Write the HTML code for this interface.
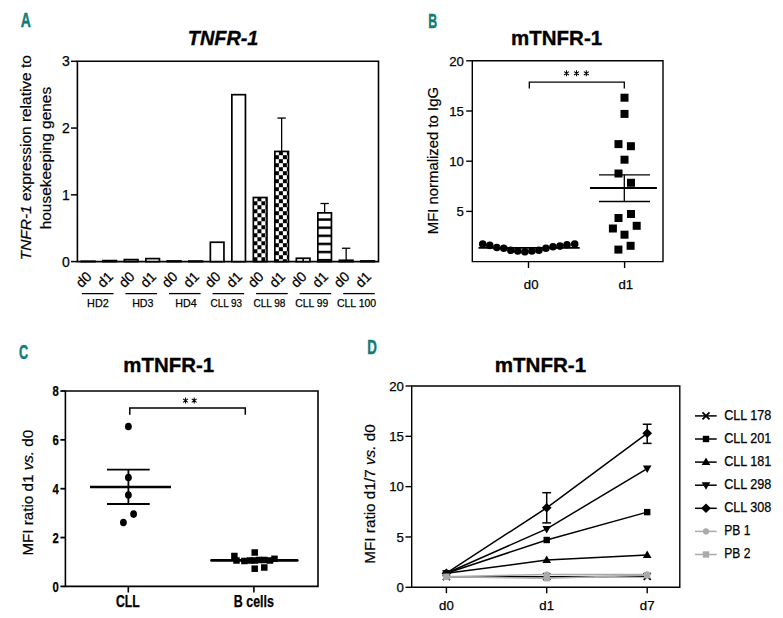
<!DOCTYPE html>
<html><head><meta charset="utf-8"><style>
html,body{margin:0;padding:0;background:#fff;}
svg{display:block;}
text{font-family:"Liberation Sans",sans-serif;}
</style></head><body>
<svg width="783" height="618" viewBox="0 0 783 618">
<rect width="783" height="618" fill="#fff"/>
<text x="20.8" y="26.5" font-size="19.8" text-anchor="start" font-weight="bold" font-style="normal" fill="#127a79" textLength="10.1" lengthAdjust="spacingAndGlyphs" stroke="#127a79" stroke-width="0.45">A</text>
<text x="187.8" y="45.3" font-size="21" text-anchor="start" font-weight="bold" font-style="italic" fill="#000" textLength="70.6" lengthAdjust="spacingAndGlyphs" stroke="#000" stroke-width="0.35">TNFR-1</text>
<path d="M77.4,61.3 H378.5 V261.6 H77.4 Z" fill="none" stroke="#000" stroke-width="1.6"/>
<line x1="71" y1="261.6" x2="77.4" y2="261.6" stroke="#000" stroke-width="1.5" />
<text x="69.8" y="266.6" font-size="14" text-anchor="end" font-weight="normal" font-style="normal" fill="#000"  stroke="#000" stroke-width="0.25">0</text>
<line x1="71" y1="194.83333333333337" x2="77.4" y2="194.83333333333337" stroke="#000" stroke-width="1.5" />
<text x="69.8" y="199.83333333333337" font-size="14" text-anchor="end" font-weight="normal" font-style="normal" fill="#000"  stroke="#000" stroke-width="0.25">1</text>
<line x1="71" y1="128.0666666666667" x2="77.4" y2="128.0666666666667" stroke="#000" stroke-width="1.5" />
<text x="69.8" y="133.0666666666667" font-size="14" text-anchor="end" font-weight="normal" font-style="normal" fill="#000"  stroke="#000" stroke-width="0.25">2</text>
<line x1="71" y1="61.29999999999998" x2="77.4" y2="61.29999999999998" stroke="#000" stroke-width="1.5" />
<text x="69.8" y="66.29999999999998" font-size="14" text-anchor="end" font-weight="normal" font-style="normal" fill="#000"  stroke="#000" stroke-width="0.25">3</text>
<text transform="translate(30.8,157.7) rotate(-90)" font-size="15.45" text-anchor="middle" fill="#000" stroke="#000" stroke-width="0.2"><tspan font-style="italic">TNFR-1</tspan> expression relative to</text>
<text transform="translate(50.8,158.1) rotate(-90)" font-size="15.45" text-anchor="middle" fill="#000" stroke="#000" stroke-width="0.2">housekeeping genes</text>
<rect x="81.35" y="261.27" width="13.6" height="0.33" fill="#fff" stroke="#000" stroke-width="1.7"/>
<rect x="102.85" y="260.60" width="13.6" height="1.00" fill="#fff" stroke="#000" stroke-width="1.7"/>
<rect x="124.35" y="259.60" width="13.6" height="2.00" fill="#fff" stroke="#000" stroke-width="1.7"/>
<rect x="145.85" y="258.60" width="13.6" height="3.00" fill="#fff" stroke="#000" stroke-width="1.7"/>
<rect x="167.35" y="260.93" width="13.6" height="0.67" fill="#fff" stroke="#000" stroke-width="1.7"/>
<rect x="188.85" y="261.07" width="13.6" height="0.53" fill="#fff" stroke="#000" stroke-width="1.7"/>
<rect x="210.35" y="242.24" width="13.6" height="19.36" fill="#fff" stroke="#000" stroke-width="1.7"/>
<rect x="231.85" y="94.68" width="13.6" height="166.92" fill="#fff" stroke="#000" stroke-width="1.7"/>
<rect x="253.35" y="197.50" width="13.6" height="64.10" fill="url(#chk8)" stroke="#000" stroke-width="1.7"/>
<line x1="281.65" y1="118.0516666666667" x2="281.65" y2="151.435" stroke="#000" stroke-width="1.3" />
<line x1="277.45" y1="118.0516666666667" x2="285.84999999999997" y2="118.0516666666667" stroke="#000" stroke-width="1.3" />
<rect x="274.85" y="151.44" width="13.6" height="110.17" fill="url(#chk9)" stroke="#000" stroke-width="1.7"/>
<rect x="296.35" y="258.26" width="13.6" height="3.34" fill="url(#hst10)" stroke="#000" stroke-width="1.7"/>
<line x1="303.15" y1="258.2616666666667" x2="303.15" y2="261.6" stroke="#000" stroke-width="1.6" />
<line x1="324.65" y1="203.51300000000003" x2="324.65" y2="212.86033333333336" stroke="#000" stroke-width="1.3" />
<line x1="320.45" y1="203.51300000000003" x2="328.84999999999997" y2="203.51300000000003" stroke="#000" stroke-width="1.3" />
<rect x="317.85" y="212.86" width="13.6" height="48.74" fill="url(#hst11)" stroke="#000" stroke-width="1.7"/>
<line x1="346.15" y1="248.2466666666667" x2="346.15" y2="260.2646666666667" stroke="#000" stroke-width="1.3" />
<line x1="341.95" y1="248.2466666666667" x2="350.34999999999997" y2="248.2466666666667" stroke="#000" stroke-width="1.3" />
<rect x="339.35" y="260.26" width="13.6" height="1.34" fill="#fff" stroke="#000" stroke-width="1.7"/>
<rect x="360.85" y="260.93" width="13.6" height="0.67" fill="#fff" stroke="#000" stroke-width="1.7"/>
<defs><pattern id="chk8" patternUnits="userSpaceOnUse" width="8" height="8" x="257.40" y="197.25"><rect width="8" height="8" fill="#fff"/><rect x="0" y="0" width="4" height="4" fill="#000"/><rect x="4" y="4" width="4" height="4" fill="#000"/></pattern><pattern id="chk9" patternUnits="userSpaceOnUse" width="8" height="8" x="278.90" y="151.19"><rect width="8" height="8" fill="#fff"/><rect x="0" y="0" width="4" height="4" fill="#000"/><rect x="4" y="4" width="4" height="4" fill="#000"/></pattern><pattern id="hst10" patternUnits="userSpaceOnUse" width="8" height="8.1" x="0" y="263.76"><rect width="8" height="8.1" fill="#fff"/><rect x="0" y="0" width="8" height="2.5" fill="#000"/></pattern><pattern id="hst11" patternUnits="userSpaceOnUse" width="8" height="8.1" x="0" y="218.36"><rect width="8" height="8.1" fill="#fff"/><rect x="0" y="0" width="8" height="2.5" fill="#000"/></pattern></defs>
<text transform="translate(92.45,277.5) rotate(-45)" font-size="14" text-anchor="end" fill="#000" stroke="#000" stroke-width="0.25">d0</text>
<text transform="translate(113.95,277.5) rotate(-45)" font-size="14" text-anchor="end" fill="#000" stroke="#000" stroke-width="0.25">d1</text>
<text transform="translate(135.45,277.5) rotate(-45)" font-size="14" text-anchor="end" fill="#000" stroke="#000" stroke-width="0.25">d0</text>
<text transform="translate(156.95,277.5) rotate(-45)" font-size="14" text-anchor="end" fill="#000" stroke="#000" stroke-width="0.25">d1</text>
<text transform="translate(178.45,277.5) rotate(-45)" font-size="14" text-anchor="end" fill="#000" stroke="#000" stroke-width="0.25">d0</text>
<text transform="translate(199.95,277.5) rotate(-45)" font-size="14" text-anchor="end" fill="#000" stroke="#000" stroke-width="0.25">d1</text>
<text transform="translate(221.45,277.5) rotate(-45)" font-size="14" text-anchor="end" fill="#000" stroke="#000" stroke-width="0.25">d0</text>
<text transform="translate(242.95,277.5) rotate(-45)" font-size="14" text-anchor="end" fill="#000" stroke="#000" stroke-width="0.25">d1</text>
<text transform="translate(264.45,277.5) rotate(-45)" font-size="14" text-anchor="end" fill="#000" stroke="#000" stroke-width="0.25">d0</text>
<text transform="translate(285.95,277.5) rotate(-45)" font-size="14" text-anchor="end" fill="#000" stroke="#000" stroke-width="0.25">d1</text>
<text transform="translate(307.45,277.5) rotate(-45)" font-size="14" text-anchor="end" fill="#000" stroke="#000" stroke-width="0.25">d0</text>
<text transform="translate(328.95,277.5) rotate(-45)" font-size="14" text-anchor="end" fill="#000" stroke="#000" stroke-width="0.25">d1</text>
<text transform="translate(350.45,277.5) rotate(-45)" font-size="14" text-anchor="end" fill="#000" stroke="#000" stroke-width="0.25">d0</text>
<text transform="translate(371.95,277.5) rotate(-45)" font-size="14" text-anchor="end" fill="#000" stroke="#000" stroke-width="0.25">d1</text>
<line x1="81.9" y1="293.6" x2="113.5" y2="293.6" stroke="#000" stroke-width="1.3" />
<text x="87.10000000000001" y="306.8" font-size="11.5" text-anchor="start" font-weight="normal" font-style="normal" fill="#000" textLength="21.6" lengthAdjust="spacingAndGlyphs"  stroke="#000" stroke-width="0.25">HD2</text>
<line x1="125.45" y1="293.6" x2="157.05" y2="293.6" stroke="#000" stroke-width="1.3" />
<text x="132.2" y="306.8" font-size="11.5" text-anchor="start" font-weight="normal" font-style="normal" fill="#000" textLength="21.3" lengthAdjust="spacingAndGlyphs"  stroke="#000" stroke-width="0.25">HD3</text>
<line x1="169.0" y1="293.6" x2="200.6" y2="293.6" stroke="#000" stroke-width="1.3" />
<text x="175.29999999999998" y="306.8" font-size="11.5" text-anchor="start" font-weight="normal" font-style="normal" fill="#000" textLength="21.400000000000002" lengthAdjust="spacingAndGlyphs"  stroke="#000" stroke-width="0.25">HD4</text>
<line x1="212.54999999999998" y1="293.6" x2="244.14999999999998" y2="293.6" stroke="#000" stroke-width="1.3" />
<text x="210.5" y="306.8" font-size="11.5" text-anchor="start" font-weight="normal" font-style="normal" fill="#000" textLength="31.6" lengthAdjust="spacingAndGlyphs"  stroke="#000" stroke-width="0.25">CLL 93</text>
<line x1="256.1" y1="293.6" x2="287.70000000000005" y2="293.6" stroke="#000" stroke-width="1.3" />
<text x="253.39999999999998" y="306.8" font-size="11.5" text-anchor="start" font-weight="normal" font-style="normal" fill="#000" textLength="32.0" lengthAdjust="spacingAndGlyphs"  stroke="#000" stroke-width="0.25">CLL 98</text>
<line x1="299.65" y1="293.6" x2="331.25" y2="293.6" stroke="#000" stroke-width="1.3" />
<text x="295.2" y="306.8" font-size="11.5" text-anchor="start" font-weight="normal" font-style="normal" fill="#000" textLength="33.0" lengthAdjust="spacingAndGlyphs"  stroke="#000" stroke-width="0.25">CLL 99</text>
<line x1="343.19999999999993" y1="293.6" x2="374.79999999999995" y2="293.6" stroke="#000" stroke-width="1.3" />
<text x="336.9" y="306.8" font-size="11.5" text-anchor="start" font-weight="normal" font-style="normal" fill="#000" textLength="39.300000000000004" lengthAdjust="spacingAndGlyphs"  stroke="#000" stroke-width="0.25">CLL 100</text>
<text x="428.3" y="28.0" font-size="19.8" text-anchor="start" font-weight="bold" font-style="normal" fill="#127a79" textLength="8.9" lengthAdjust="spacingAndGlyphs" stroke="#127a79" stroke-width="0.45">B</text>
<text x="511.1" y="44.9" font-size="21" text-anchor="start" font-weight="bold" font-style="normal" fill="#000" textLength="91.0" lengthAdjust="spacingAndGlyphs" stroke="#000" stroke-width="0.35">mTNFR-1</text>
<path d="M472.3,60.8 H663 V261.6 H472.3 Z" fill="none" stroke="#000" stroke-width="1.4"/>
<line x1="466.2" y1="211.40000000000003" x2="472.3" y2="211.40000000000003" stroke="#000" stroke-width="1.4" />
<text x="463.8" y="216.10000000000002" font-size="13.2" text-anchor="end" font-weight="normal" font-style="normal" fill="#000"  stroke="#000" stroke-width="0.25">5</text>
<line x1="466.2" y1="161.20000000000002" x2="472.3" y2="161.20000000000002" stroke="#000" stroke-width="1.4" />
<text x="463.8" y="165.9" font-size="13.2" text-anchor="end" font-weight="normal" font-style="normal" fill="#000"  stroke="#000" stroke-width="0.25">10</text>
<line x1="466.2" y1="111.00000000000003" x2="472.3" y2="111.00000000000003" stroke="#000" stroke-width="1.4" />
<text x="463.8" y="115.70000000000003" font-size="13.2" text-anchor="end" font-weight="normal" font-style="normal" fill="#000"  stroke="#000" stroke-width="0.25">15</text>
<line x1="466.2" y1="60.80000000000001" x2="472.3" y2="60.80000000000001" stroke="#000" stroke-width="1.4" />
<text x="463.8" y="65.50000000000001" font-size="13.2" text-anchor="end" font-weight="normal" font-style="normal" fill="#000"  stroke="#000" stroke-width="0.25">20</text>
<line x1="528.5" y1="261.6" x2="528.5" y2="268" stroke="#000" stroke-width="1.4" />
<line x1="624.6" y1="261.6" x2="624.6" y2="268" stroke="#000" stroke-width="1.4" />
<text x="531.2" y="289" font-size="13.2" text-anchor="middle" font-weight="normal" font-style="normal" fill="#000"  stroke="#000" stroke-width="0.25">d0</text>
<text x="625.8" y="289" font-size="13.2" text-anchor="middle" font-weight="normal" font-style="normal" fill="#000"  stroke="#000" stroke-width="0.25">d1</text>
<text transform="translate(438,160.6) rotate(-90)" font-size="14.9" text-anchor="middle" fill="#000" stroke="#000" stroke-width="0.2">MFI normalized to IgG</text>
<path d="M529.3,88.4 V82.2 H624.3 V88.4" fill="none" stroke="#000" stroke-width="1.3"/>
<path d="M566.50,70.30 L566.50,76.30 M564.04,71.58 L568.96,75.02 M568.96,71.58 L564.04,75.02 " stroke="#000" stroke-width="1.05" fill="none"/><circle cx="566.5" cy="73.3" r="1.0" fill="#000"/>
<path d="M576.50,70.30 L576.50,76.30 M574.04,71.58 L578.96,75.02 M578.96,71.58 L574.04,75.02 " stroke="#000" stroke-width="1.05" fill="none"/><circle cx="576.5" cy="73.3" r="1.0" fill="#000"/>
<path d="M586.30,70.30 L586.30,76.30 M583.84,71.58 L588.76,75.02 M588.76,71.58 L583.84,75.02 " stroke="#000" stroke-width="1.05" fill="none"/><circle cx="586.3" cy="73.3" r="1.0" fill="#000"/>
<line x1="478.5" y1="247.9" x2="579.7" y2="247.9" stroke="#000" stroke-width="1.8" />
<circle cx="482.7" cy="244" r="3.8" fill="#000"/>
<circle cx="489.8" cy="245.4" r="3.8" fill="#000"/>
<circle cx="496.8" cy="247.5" r="3.8" fill="#000"/>
<circle cx="503.8" cy="248.2" r="3.8" fill="#000"/>
<circle cx="510.8" cy="250.3" r="3.8" fill="#000"/>
<circle cx="517.8" cy="251" r="3.8" fill="#000"/>
<circle cx="524.9" cy="251.7" r="3.8" fill="#000"/>
<circle cx="531.9" cy="251" r="3.8" fill="#000"/>
<circle cx="538.9" cy="250.3" r="3.8" fill="#000"/>
<circle cx="545.9" cy="248.2" r="3.8" fill="#000"/>
<circle cx="553" cy="246.8" r="3.8" fill="#000"/>
<circle cx="560" cy="246.1" r="3.8" fill="#000"/>
<circle cx="567" cy="244.7" r="3.8" fill="#000"/>
<circle cx="574.7" cy="244" r="3.8" fill="#000"/>
<rect x="620.5" y="93.7" width="8" height="8" fill="#000"/>
<rect x="620.5" y="109.9" width="8" height="8" fill="#000"/>
<rect x="614.5" y="140.1" width="8" height="8" fill="#000"/>
<rect x="626.9" y="142.2" width="8" height="8" fill="#000"/>
<rect x="620.5" y="155.7" width="8" height="8" fill="#000"/>
<rect x="614.5" y="169.5" width="8" height="8" fill="#000"/>
<rect x="627" y="178.8" width="8" height="8" fill="#000"/>
<rect x="627" y="210" width="8" height="8" fill="#000"/>
<rect x="614.5" y="214" width="8" height="8" fill="#000"/>
<rect x="608.9" y="224.5" width="8" height="8" fill="#000"/>
<rect x="632.7" y="221.8" width="8" height="8" fill="#000"/>
<rect x="620.5" y="230.7" width="8" height="8" fill="#000"/>
<rect x="626.6" y="241.8" width="8" height="8" fill="#000"/>
<rect x="614.4" y="245.6" width="8" height="8" fill="#000"/>
<line x1="590" y1="188" x2="656.9" y2="188" stroke="#000" stroke-width="2" />
<line x1="599" y1="174.8" x2="650" y2="174.8" stroke="#000" stroke-width="1.3" />
<line x1="599" y1="201.5" x2="650" y2="201.5" stroke="#000" stroke-width="1.3" />
<line x1="624.3" y1="174.8" x2="624.3" y2="201.5" stroke="#000" stroke-width="1.3" />
<text x="18.9" y="358.9" font-size="19.8" text-anchor="start" font-weight="bold" font-style="normal" fill="#127a79" textLength="9.1" lengthAdjust="spacingAndGlyphs" stroke="#127a79" stroke-width="0.45">C</text>
<text x="123.3" y="372.2" font-size="21" text-anchor="start" font-weight="bold" font-style="normal" fill="#000" textLength="90.8" lengthAdjust="spacingAndGlyphs" stroke="#000" stroke-width="0.35">mTNFR-1</text>
<path d="M65.4,391 H318 V586.4 H65.4 Z" fill="none" stroke="#000" stroke-width="1.6"/>
<line x1="60.4" y1="586.4" x2="65.4" y2="586.4" stroke="#000" stroke-width="1.8" />
<text x="58.7" y="591.6999999999999" font-size="15.5" text-anchor="end" font-weight="bold" font-style="normal" fill="#000" textLength="6.3" lengthAdjust="spacingAndGlyphs"  stroke="#000" stroke-width="0.25">0</text>
<line x1="60.4" y1="537.55" x2="65.4" y2="537.55" stroke="#000" stroke-width="1.8" />
<text x="58.7" y="542.8499999999999" font-size="15.5" text-anchor="end" font-weight="bold" font-style="normal" fill="#000" textLength="6.3" lengthAdjust="spacingAndGlyphs"  stroke="#000" stroke-width="0.25">2</text>
<line x1="60.4" y1="488.7" x2="65.4" y2="488.7" stroke="#000" stroke-width="1.8" />
<text x="58.7" y="494.0" font-size="15.5" text-anchor="end" font-weight="bold" font-style="normal" fill="#000" textLength="6.3" lengthAdjust="spacingAndGlyphs"  stroke="#000" stroke-width="0.25">4</text>
<line x1="60.4" y1="439.85" x2="65.4" y2="439.85" stroke="#000" stroke-width="1.8" />
<text x="58.7" y="445.15000000000003" font-size="15.5" text-anchor="end" font-weight="bold" font-style="normal" fill="#000" textLength="6.3" lengthAdjust="spacingAndGlyphs"  stroke="#000" stroke-width="0.25">6</text>
<line x1="60.4" y1="391.0" x2="65.4" y2="391.0" stroke="#000" stroke-width="1.8" />
<text x="58.7" y="396.3" font-size="15.5" text-anchor="end" font-weight="bold" font-style="normal" fill="#000" textLength="6.3" lengthAdjust="spacingAndGlyphs"  stroke="#000" stroke-width="0.25">8</text>
<line x1="128.3" y1="586.4" x2="128.3" y2="592.5" stroke="#000" stroke-width="1.6" />
<line x1="253.9" y1="586.4" x2="253.9" y2="592.5" stroke="#000" stroke-width="1.6" />
<text x="116" y="606.7" font-size="15.8" text-anchor="start" font-weight="bold" font-style="normal" fill="#000" textLength="23.8" lengthAdjust="spacingAndGlyphs"  stroke="#000" stroke-width="0.25">CLL</text>
<text x="233.8" y="606.8" font-size="15.8" text-anchor="start" font-weight="bold" font-style="normal" fill="#000" textLength="40.1" lengthAdjust="spacingAndGlyphs"  stroke="#000" stroke-width="0.25">B cells</text>
<text transform="translate(32.6,492.7) rotate(-90)" font-size="15.2" text-anchor="middle" fill="#000" stroke="#000" stroke-width="0.2">MFI ratio d1 <tspan font-style="italic">vs.</tspan> d0</text>
<path d="M129.8,414.7 V408 H245.3 V414.7" fill="none" stroke="#000" stroke-width="1.5"/>
<path d="M185.50,397.60 L185.50,403.60 M183.04,398.88 L187.96,402.32 M187.96,398.88 L183.04,402.32 " stroke="#000" stroke-width="1.05" fill="none"/><circle cx="185.5" cy="400.6" r="1.0" fill="#000"/>
<path d="M194.20,397.60 L194.20,403.60 M191.74,398.88 L196.66,402.32 M196.66,398.88 L191.74,402.32 " stroke="#000" stroke-width="1.05" fill="none"/><circle cx="194.2" cy="400.6" r="1.0" fill="#000"/>
<ellipse cx="128.4" cy="426.5" rx="3.4" ry="3.8" fill="#000"/>
<ellipse cx="128.4" cy="477.5" rx="3.4" ry="3.8" fill="#000"/>
<ellipse cx="128.4" cy="495" rx="3.4" ry="3.8" fill="#000"/>
<ellipse cx="133.6" cy="514.1" rx="3.4" ry="3.8" fill="#000"/>
<ellipse cx="123.4" cy="522.5" rx="3.4" ry="3.8" fill="#000"/>
<line x1="90" y1="487" x2="171" y2="487" stroke="#000" stroke-width="2.4" />
<line x1="107" y1="469.7" x2="149.7" y2="469.7" stroke="#000" stroke-width="1.8" />
<line x1="107" y1="504" x2="149.7" y2="504" stroke="#000" stroke-width="1.8" />
<line x1="128.4" y1="469.7" x2="128.4" y2="504" stroke="#000" stroke-width="1.8" />
<rect x="231.15" y="552.75" width="6.5" height="6.5" fill="#000"/>
<rect x="233.25" y="557.25" width="6.5" height="6.5" fill="#000"/>
<rect x="241.15" y="557.75" width="6.5" height="6.5" fill="#000"/>
<rect x="246.75" y="557.25" width="6.5" height="6.5" fill="#000"/>
<rect x="251.45" y="549.25" width="6.5" height="6.5" fill="#000"/>
<rect x="251.45" y="557.25" width="6.5" height="6.5" fill="#000"/>
<rect x="251.45" y="565.45" width="6.5" height="6.5" fill="#000"/>
<rect x="255.75" y="556.75" width="6.5" height="6.5" fill="#000"/>
<rect x="261.05" y="564.25" width="6.5" height="6.5" fill="#000"/>
<rect x="261.05" y="556.75" width="6.5" height="6.5" fill="#000"/>
<rect x="266.75" y="557.25" width="6.5" height="6.5" fill="#000"/>
<rect x="271.25" y="555.55" width="6.5" height="6.5" fill="#000"/>
<line x1="211.5" y1="560.4" x2="297.3" y2="560.4" stroke="#000" stroke-width="2.7" stroke-linecap="round"/>
<text x="367.3" y="353.5" font-size="19.8" text-anchor="start" font-weight="bold" font-style="normal" fill="#127a79" textLength="9.6" lengthAdjust="spacingAndGlyphs" stroke="#127a79" stroke-width="0.45">D</text>
<text x="494.7" y="371.5" font-size="21" text-anchor="start" font-weight="bold" font-style="normal" fill="#000" textLength="91.4" lengthAdjust="spacingAndGlyphs" stroke="#000" stroke-width="0.35">mTNFR-1</text>
<path d="M411.7,386 H679.8 V587.3 H411.7 Z" fill="none" stroke="#000" stroke-width="1.4"/>
<line x1="405.5" y1="587.3" x2="411.7" y2="587.3" stroke="#000" stroke-width="1.4" />
<text x="403.9" y="592.0" font-size="13.2" text-anchor="end" font-weight="normal" font-style="normal" fill="#000"  stroke="#000" stroke-width="0.25">0</text>
<line x1="405.5" y1="536.9749999999999" x2="411.7" y2="536.9749999999999" stroke="#000" stroke-width="1.4" />
<text x="403.9" y="541.675" font-size="13.2" text-anchor="end" font-weight="normal" font-style="normal" fill="#000"  stroke="#000" stroke-width="0.25">5</text>
<line x1="405.5" y1="486.65" x2="411.7" y2="486.65" stroke="#000" stroke-width="1.4" />
<text x="403.9" y="491.34999999999997" font-size="13.2" text-anchor="end" font-weight="normal" font-style="normal" fill="#000"  stroke="#000" stroke-width="0.25">10</text>
<line x1="405.5" y1="436.325" x2="411.7" y2="436.325" stroke="#000" stroke-width="1.4" />
<text x="403.9" y="441.025" font-size="13.2" text-anchor="end" font-weight="normal" font-style="normal" fill="#000"  stroke="#000" stroke-width="0.25">15</text>
<line x1="405.5" y1="386.0" x2="411.7" y2="386.0" stroke="#000" stroke-width="1.4" />
<text x="403.9" y="390.7" font-size="13.2" text-anchor="end" font-weight="normal" font-style="normal" fill="#000"  stroke="#000" stroke-width="0.25">20</text>
<line x1="446.4" y1="587.3" x2="446.4" y2="593.2" stroke="#000" stroke-width="1.4" />
<text x="446.4" y="609.6" font-size="13.2" text-anchor="middle" font-weight="normal" font-style="normal" fill="#000"  stroke="#000" stroke-width="0.25">d0</text>
<line x1="546.7" y1="587.3" x2="546.7" y2="593.2" stroke="#000" stroke-width="1.4" />
<text x="546.7" y="609.6" font-size="13.2" text-anchor="middle" font-weight="normal" font-style="normal" fill="#000"  stroke="#000" stroke-width="0.25">d1</text>
<line x1="647.2" y1="587.3" x2="647.2" y2="593.2" stroke="#000" stroke-width="1.4" />
<text x="647.2" y="609.6" font-size="13.2" text-anchor="middle" font-weight="normal" font-style="normal" fill="#000"  stroke="#000" stroke-width="0.25">d7</text>
<text transform="translate(374.6,494) rotate(-90)" font-size="15.3" text-anchor="middle" fill="#000" stroke="#000" stroke-width="0.2">MFI ratio d1/7 <tspan font-style="italic">vs.</tspan> d0</text>
<line x1="546.7" y1="522.884" x2="546.7" y2="492.68899999999996" stroke="#000" stroke-width="1.5" />
<line x1="542.3000000000001" y1="522.884" x2="551.1" y2="522.884" stroke="#000" stroke-width="1.5" />
<line x1="542.3000000000001" y1="492.68899999999996" x2="551.1" y2="492.68899999999996" stroke="#000" stroke-width="1.5" />
<line x1="647.2" y1="443.3705" x2="647.2" y2="424.247" stroke="#000" stroke-width="1.5" />
<line x1="642.8000000000001" y1="443.3705" x2="651.6" y2="443.3705" stroke="#000" stroke-width="1.5" />
<line x1="642.8000000000001" y1="424.247" x2="651.6" y2="424.247" stroke="#000" stroke-width="1.5" />
<polyline points="446.4,576.73 546.7,576.73 647.2,576.43" fill="none" stroke="#000" stroke-width="1.5"/>
<path d="M442.9,573.2317499999999 L449.9,580.2317499999999 M442.9,580.2317499999999 L449.9,573.2317499999999" stroke="#000" stroke-width="1.8"/>
<path d="M543.2,573.2317499999999 L550.2,580.2317499999999 M543.2,580.2317499999999 L550.2,573.2317499999999" stroke="#000" stroke-width="1.8"/>
<path d="M643.7,572.9298 L650.7,579.9298 M643.7,579.9298 L650.7,572.9298" stroke="#000" stroke-width="1.8"/>
<polyline points="446.4,573.21 546.7,539.99 647.2,512.11" fill="none" stroke="#000" stroke-width="1.5"/>
<rect x="443.2" y="570.0089999999999" width="6.4" height="6.4" fill="#000"/>
<rect x="543.5" y="536.7945" width="6.4" height="6.4" fill="#000"/>
<rect x="644.0" y="508.91445000000004" width="6.4" height="6.4" fill="#000"/>
<polyline points="446.4,573.21 546.7,560.12 647.2,555.09" fill="none" stroke="#000" stroke-width="1.5"/>
<path d="M446.4,568.709 L450.7,576.209 L442.09999999999997,576.209 Z" fill="#000"/>
<path d="M546.7,555.6245 L551.0,563.1245 L542.4000000000001,563.1245 Z" fill="#000"/>
<path d="M647.2,550.592 L651.5,558.092 L642.9000000000001,558.092 Z" fill="#000"/>
<polyline points="446.4,573.21 546.7,528.92 647.2,468.53" fill="none" stroke="#000" stroke-width="1.5"/>
<path d="M446.4,577.709 L450.7,570.209 L442.09999999999997,570.209 Z" fill="#000"/>
<path d="M546.7,533.423 L551.0,525.923 L542.4000000000001,525.923 Z" fill="#000"/>
<path d="M647.2,473.03299999999996 L651.5,465.53299999999996 L642.9000000000001,465.53299999999996 Z" fill="#000"/>
<polyline points="446.4,573.21 546.7,507.79 647.2,433.31" fill="none" stroke="#000" stroke-width="1.5"/>
<path d="M446.4,568.409 L451.29999999999995,573.209 L446.4,578.0089999999999 L441.5,573.209 Z" fill="#000"/>
<path d="M546.7,502.9864999999999 L551.6,507.78649999999993 L546.7,512.5864999999999 L541.8000000000001,507.78649999999993 Z" fill="#000"/>
<path d="M647.2,428.5055 L652.1,433.3055 L647.2,438.1055 L642.3000000000001,433.3055 Z" fill="#000"/>
<polyline points="446.4,576.73 546.7,574.52 647.2,574.42" fill="none" stroke="#aaa" stroke-width="1.5"/>
<circle cx="446.4" cy="576.7317499999999" r="3.1" fill="#aaa"/>
<circle cx="546.7" cy="574.5174499999999" r="3.1" fill="#aaa"/>
<circle cx="647.2" cy="574.4168" r="3.1" fill="#aaa"/>
<polyline points="446.4,576.73 546.7,578.24 647.2,575.22" fill="none" stroke="#aaa" stroke-width="1.5"/>
<rect x="443.2" y="573.5317499999999" width="6.4" height="6.4" fill="#aaa"/>
<rect x="543.5" y="575.0414999999999" width="6.4" height="6.4" fill="#aaa"/>
<rect x="644.0" y="572.0219999999999" width="6.4" height="6.4" fill="#aaa"/>
<line x1="695" y1="415.9" x2="716.7" y2="415.9" stroke="#000" stroke-width="1.5" />
<path d="M702.5,412.4 L709.5,419.4 M702.5,419.4 L709.5,412.4" stroke="#000" stroke-width="1.8"/>
<text x="724.2" y="419.79999999999995" font-size="14.2" text-anchor="start" font-weight="normal" font-style="normal" fill="#000" textLength="47.2" lengthAdjust="spacingAndGlyphs"  stroke="#000" stroke-width="0.25">CLL 178</text>
<line x1="695" y1="439.0" x2="716.7" y2="439.0" stroke="#000" stroke-width="1.5" />
<rect x="702.8" y="435.8" width="6.4" height="6.4" fill="#000"/>
<text x="724.2" y="442.9" font-size="14.2" text-anchor="start" font-weight="normal" font-style="normal" fill="#000" textLength="47.2" lengthAdjust="spacingAndGlyphs"  stroke="#000" stroke-width="0.25">CLL 201</text>
<line x1="695" y1="462.09999999999997" x2="716.7" y2="462.09999999999997" stroke="#000" stroke-width="1.5" />
<path d="M706,457.59999999999997 L710.3,465.09999999999997 L701.7,465.09999999999997 Z" fill="#000"/>
<text x="724.2" y="465.99999999999994" font-size="14.2" text-anchor="start" font-weight="normal" font-style="normal" fill="#000" textLength="47.2" lengthAdjust="spacingAndGlyphs"  stroke="#000" stroke-width="0.25">CLL 181</text>
<line x1="695" y1="485.2" x2="716.7" y2="485.2" stroke="#000" stroke-width="1.5" />
<path d="M706,489.7 L710.3,482.2 L701.7,482.2 Z" fill="#000"/>
<text x="724.2" y="489.09999999999997" font-size="14.2" text-anchor="start" font-weight="normal" font-style="normal" fill="#000" textLength="47.2" lengthAdjust="spacingAndGlyphs"  stroke="#000" stroke-width="0.25">CLL 298</text>
<line x1="695" y1="508.29999999999995" x2="716.7" y2="508.29999999999995" stroke="#000" stroke-width="1.5" />
<path d="M706,503.49999999999994 L710.9,508.29999999999995 L706,513.0999999999999 L701.1,508.29999999999995 Z" fill="#000"/>
<text x="724.2" y="512.1999999999999" font-size="14.2" text-anchor="start" font-weight="normal" font-style="normal" fill="#000" textLength="47.2" lengthAdjust="spacingAndGlyphs"  stroke="#000" stroke-width="0.25">CLL 308</text>
<line x1="695" y1="531.4" x2="716.7" y2="531.4" stroke="#aaa" stroke-width="1.5" />
<circle cx="706" cy="531.4" r="3.1" fill="#aaa"/>
<text x="724.2" y="535.3" font-size="14.2" text-anchor="start" font-weight="normal" font-style="normal" fill="#000" textLength="26.2" lengthAdjust="spacingAndGlyphs"  stroke="#000" stroke-width="0.25">PB 1</text>
<line x1="695" y1="554.5" x2="716.7" y2="554.5" stroke="#aaa" stroke-width="1.5" />
<rect x="702.8" y="551.3" width="6.4" height="6.4" fill="#aaa"/>
<text x="724.2" y="558.4" font-size="14.2" text-anchor="start" font-weight="normal" font-style="normal" fill="#000" textLength="26.2" lengthAdjust="spacingAndGlyphs"  stroke="#000" stroke-width="0.25">PB 2</text>
</svg>
</body></html>
